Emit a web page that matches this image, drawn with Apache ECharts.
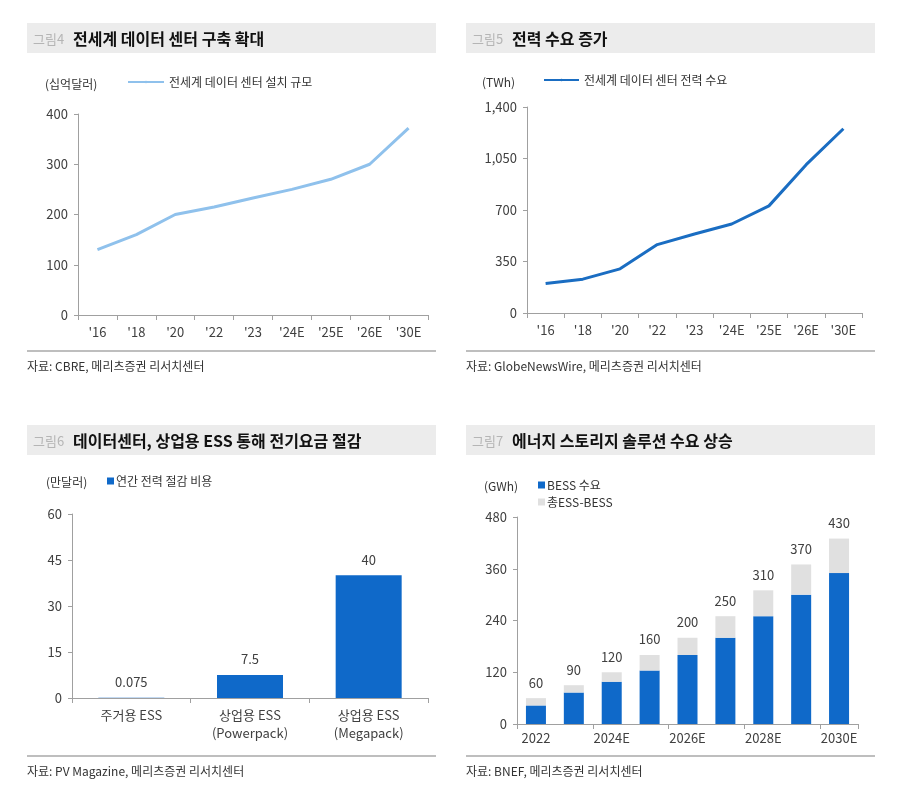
<!DOCTYPE html>
<html><head><meta charset="utf-8">
<script src="https://cdn.jsdelivr.net/npm/echarts@6/dist/echarts.min.js"></script>
<style>html,body{margin:0;padding:0;background:#fff}#c{width:900px;height:799px}</style>
</head><body><div id="c"></div>
<script>
const p1Cats = ["'16","'18","'20","'22","'23","'24E","'25E","'26E","'30E"];
const p1Vals = [130,160,200,215,233,250,270,300,372];
const p2Cats = ["'16","'18","'20","'22","'23","'24E","'25E","'26E","'30E"];
const p2Vals = [200,230,300,465,537,605,728,1008,1252];
const p3Cats = ['주거용 ESS','상업용 ESS\n(Powerpack)','상업용 ESS\n(Megapack)'];
const p3Vals = [0.075,7.5,40];
const p4Cats = ['2022','2023','2024E','2025E','2026E','2027E','2028E','2029E','2030E'];
const p4Bess = [43,73,98,124,160,200,250,300,350];
const p4Other = [17,17,22,36,40,50,60,70,80];
const p4Total = [60,90,120,160,200,250,310,370,430];

const FONT = '"Noto Sans CJK KR","Noto Sans",sans-serif';
const AX = '#a0a0a0', LBL = '#404040';
const chart = echarts.init(document.getElementById('c'));

function yAx(gi, max, interval, fmt) {
  return {gridIndex: gi, type: 'value', min: 0, max: max, interval: interval,
    axisLine: {show: true, lineStyle: {color: AX, width: 1}},
    axisTick: {show: true, length: 4, lineStyle: {color: AX}},
    splitLine: {show: false},
    axisLabel: {color: LBL, fontSize: 13, fontFamily: FONT, margin: 10, formatter: fmt}};
}
function xAx(gi, cats, extra) {
  return Object.assign({gridIndex: gi, type: 'category', data: cats,
    axisLine: {show: true, lineStyle: {color: AX, width: 1}},
    axisTick: {show: true, length: 5, lineStyle: {color: AX}},
    axisLabel: {color: LBL, fontSize: 13, fontFamily: FONT, margin: 8, lineHeight: 18}}, extra || {});
}
function titleEls(x, y, num, txt) {
  return [
    {type: 'rect', shape: {x: x, y: y - 16, width: 409, height: 30}, style: {fill: '#ececec'}},
    {type: 'text', x: x + 6, y: y, style: {text: num, fill: '#b5b5b5', font: '13px ' + FONT, textVerticalAlign: 'middle'}},
    {type: 'text', x: x + 46, y: y, style: {text: txt, fill: '#111', font: 'bold 16px ' + FONT, textVerticalAlign: 'middle'}}
  ];
}
function srcEls(x, y, txt) {
  return [
    {type: 'line', shape: {x1: x, y1: y, x2: x + 409, y2: y}, style: {stroke: '#a8a8a8', lineWidth: 1.5}},
    {type: 'text', x: x, y: y + 15, style: {text: txt, fill: '#333', font: '12px ' + FONT, textVerticalAlign: 'middle'}}
  ];
}
function unitEl(x, y, txt) {
  return {type: 'text', x: x, y: y, style: {text: txt, fill: '#333', font: '12px ' + FONT, textVerticalAlign: 'middle'}};
}

const graphics = [].concat(
  titleEls(27, 39, '그림4', '전세계 데이터 센터 구축 확대'),
  titleEls(466, 39, '그림5', '전력 수요 증가'),
  titleEls(27, 441, '그림6', '데이터센터, 상업용 ESS 통해 전기요금 절감'),
  titleEls(466, 441, '그림7', '에너지 스토리지 솔루션 수요 상승'),
  srcEls(27, 351, '자료: CBRE, 메리츠증권 리서치센터'),
  srcEls(466, 351, '자료: GlobeNewsWire, 메리츠증권 리서치센터'),
  srcEls(27, 756, '자료: PV Magazine, 메리츠증권 리서치센터'),
  srcEls(466, 756, '자료: BNEF, 메리츠증권 리서치센터'),
  [unitEl(45, 84, '(십억달러)'), unitEl(482, 82, '(TWh)'), unitEl(46, 482, '(만달러)'), unitEl(484, 486, '(GWh)')]
);

const legendText = {color: '#333', fontSize: 12, fontFamily: FONT};
chart.setOption({
  animation: false,
  textStyle: {fontFamily: FONT},
  grid: [
    {left: 78, right: 472, top: 114, bottom: 484},
    {left: 527, right: 38, top: 107, bottom: 486},
    {left: 72, right: 472, top: 514, bottom: 101},
    {left: 517, right: 42, top: 517, bottom: 75}
  ],
  legend: [
    {data: ['전세계 데이터 센터 설치 규모'], left: 127, top: 76, itemWidth: 36, itemHeight: 3, itemGap: 4, textStyle: legendText, padding: 0},
    {data: ['전세계 데이터 센터 전력 수요'], left: 543, top: 74, itemWidth: 35, itemHeight: 3, itemGap: 4, textStyle: legendText, padding: 0},
    {data: ['연간 전력 절감 비용'], left: 107, top: 475, icon: 'rect', itemWidth: 7, itemHeight: 7, textStyle: Object.assign({}, legendText, {padding: [0,0,0,-3]}), padding: 0},
    {data: ['BESS 수요', '총ESS-BESS'], left: 538, top: 479, orient: 'vertical', icon: 'rect', itemWidth: 7, itemHeight: 7, itemGap: 5, textStyle: Object.assign({}, legendText, {padding: [0,0,0,-3]}), padding: 0}
  ],
  xAxis: [
    xAx(0, p1Cats),
    xAx(1, p2Cats),
    xAx(2, p3Cats),
    xAx(3, p4Cats, {axisLabel: {color: LBL, fontSize: 13, fontFamily: FONT, margin: 8, interval: 1}, axisTick: {show: true, length: 5, interval: 1, lineStyle: {color: AX}}})
  ],
  yAxis: [
    yAx(0, 400, 100),
    yAx(1, 1400, 350, v => v.toLocaleString('en-US')),
    yAx(2, 60, 15),
    yAx(3, 480, 120)
  ],
  series: [
    {name: '전세계 데이터 센터 설치 규모', type: 'line', xAxisIndex: 0, yAxisIndex: 0, data: p1Vals, symbol: 'none',
      lineStyle: {color: '#8fc1ec', width: 3}, itemStyle: {color: '#8fc1ec'}},
    {name: '전세계 데이터 센터 전력 수요', type: 'line', xAxisIndex: 1, yAxisIndex: 1, data: p2Vals, symbol: 'none',
      lineStyle: {color: '#1a6dc2', width: 3}, itemStyle: {color: '#1a6dc2'}},
    {name: '연간 전력 절감 비용', type: 'bar', xAxisIndex: 2, yAxisIndex: 2, data: p3Vals, barWidth: 66,
      itemStyle: {color: '#0f69c9'},
      label: {show: true, position: 'top', distance: 9, color: '#404040', fontSize: 13, fontFamily: FONT}},
    {name: 'BESS 수요', type: 'bar', stack: 's', xAxisIndex: 3, yAxisIndex: 3, data: p4Bess, barWidth: 20,
      itemStyle: {color: '#0f69c9'}},
    {name: '총ESS-BESS', type: 'bar', stack: 's', xAxisIndex: 3, yAxisIndex: 3, data: p4Other, barWidth: 20,
      itemStyle: {color: '#e0e0e0'},
      label: {show: true, position: 'top', distance: 9, color: '#404040', fontSize: 13, fontFamily: FONT,
        formatter: p => String(p4Total[p.dataIndex])}}
  ],
  graphic: graphics
});
</script></body></html>
